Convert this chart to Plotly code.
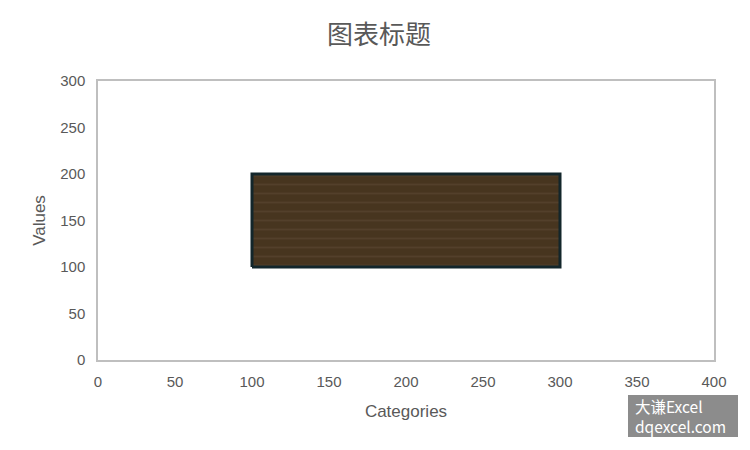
import plotly.graph_objects as go

# Data
rect_x = [100, 300]
rect_y = [100, 200]
x_ticks = [0, 50, 100, 150, 200, 250, 300, 350, 400]
y_ticks = [0, 50, 100, 150, 200, 250, 300]
title_text = "图表标题"
x_title = "Categories"
y_title = "Values"
watermark = "大谦Excel<br>dqexcel.com"

xs = [rect_x[0], rect_x[1], rect_x[1], rect_x[0], rect_x[0]]
ys = [rect_y[0], rect_y[0], rect_y[1], rect_y[1], rect_y[0]]

fig = go.Figure()
fig.add_trace(go.Scatter(
    x=xs, y=ys, mode="lines", fill="toself",
    fillcolor="#4a3827",
    fillpattern=dict(shape="-", fgcolor="#5f4b37", bgcolor="#47351f", size=9, solidity=0.2),
    line=dict(color="#13262b", width=3),
    hoverinfo="skip", showlegend=False,
))

tick_font = dict(size=15, color="#595959", family="Liberation Sans, Arial")
axis_common = dict(
    showgrid=False, zeroline=False, showline=True, linecolor="#bfbfbf", linewidth=1.5,
    mirror=True, ticks="", tickfont=tick_font,
)
fig.update_xaxes(range=[0, 400], tickvals=x_ticks, ticklabelstandoff=7,
                 title=dict(text=x_title, font=dict(size=17, color="#595959", family="Liberation Sans, Arial"), standoff=16),
                 **axis_common)
fig.update_yaxes(range=[0, 300], tickvals=y_ticks, ticklabelstandoff=8,
                 title=dict(text=y_title, font=dict(size=17, color="#595959", family="Liberation Sans, Arial"), standoff=10),
                 **axis_common)

W, H = 742, 442
L, R, T, B = 90, 36, 73, 90
pw, ph = W - L - R, H - T - B

def px_x(p):
    return (p - 98) / pw

def px_y(p):
    return (360 - p) / ph

fig.update_layout(
    width=W, height=H,
    margin=dict(l=L, r=R, t=T, b=B),
    paper_bgcolor="white", plot_bgcolor="white",
    title=dict(text=title_text, x=0.5, xanchor="center", y=(H - 27) / H, yanchor="middle",
               font=dict(size=26, color="#595959", family="Noto Sans CJK SC")),
    shapes=[dict(type="rect", xref="paper", yref="paper",
                 x0=px_x(628), x1=px_x(738), y0=px_y(437), y1=px_y(395),
                 fillcolor="#8c8c8c", line=dict(width=0), layer="above")],
    annotations=[dict(
        text=watermark, xref="paper", yref="paper",
        x=px_x(634), y=px_y(416), xanchor="left", yanchor="middle",
        showarrow=False, align="left", borderpad=0,
        font=dict(size=15.5, color="white", family="Noto Sans CJK SC"),
    )],
)

fig.write_html("out.html")
